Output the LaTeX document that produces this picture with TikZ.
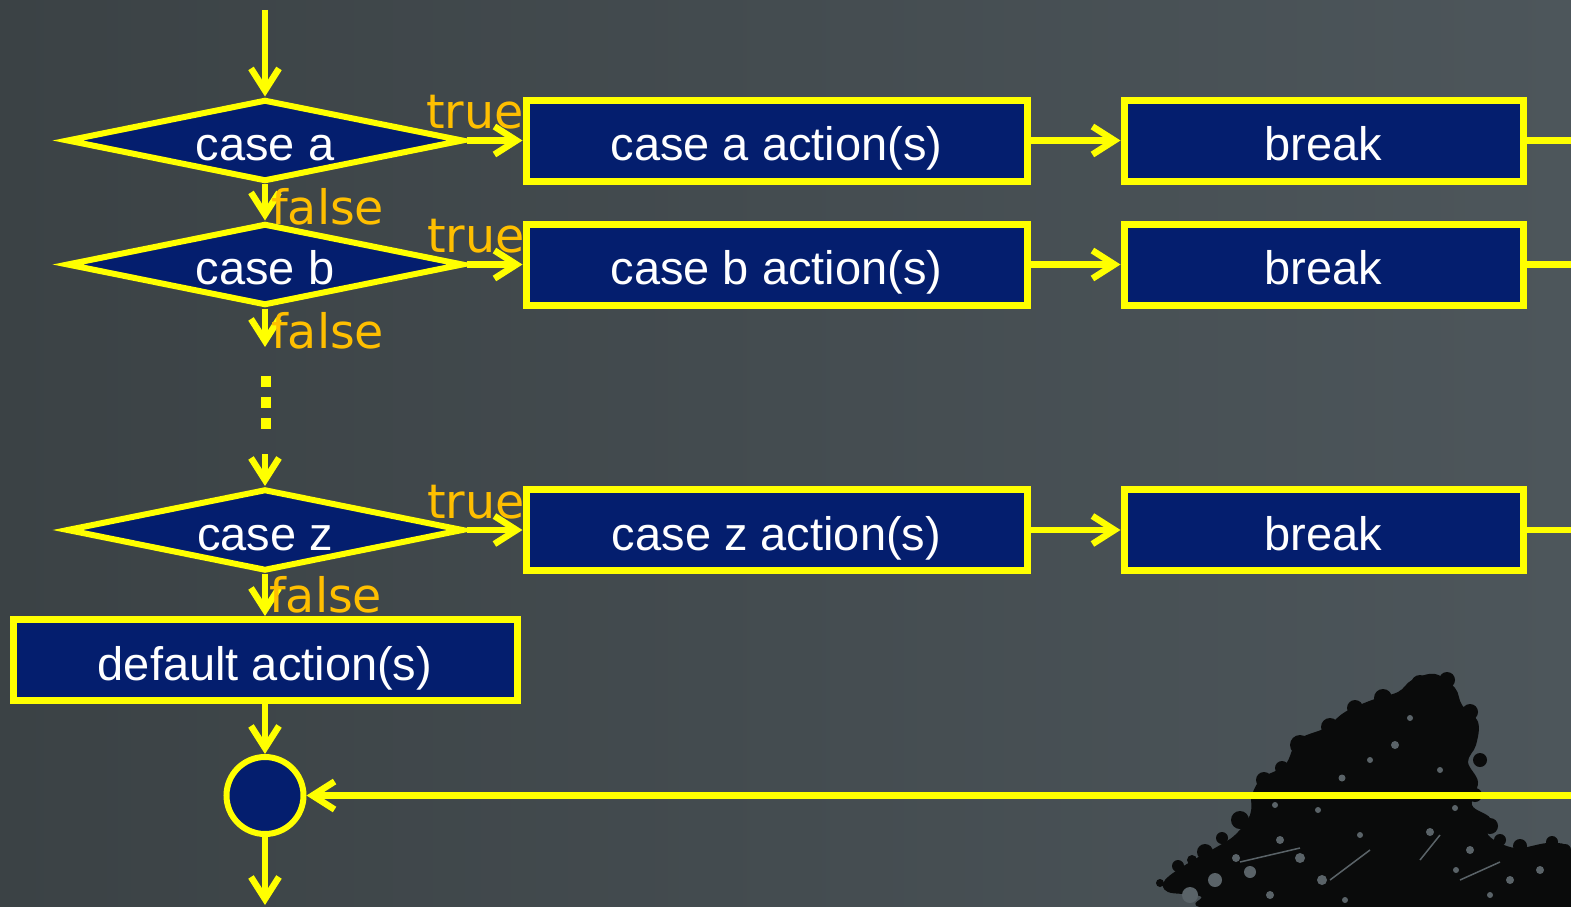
\documentclass[tikz,border=0pt]{standalone}
\usepackage{fontspec}
\setmainfont{Liberation Sans}
\newfontfamily\dejavu{DejaVu Sans}
\usetikzlibrary{shapes.geometric,arrows.meta}
\definecolor{bgL}{HTML}{3B4245}
\definecolor{bgR}{HTML}{4D565B}
\definecolor{navy}{HTML}{041E6E}
\definecolor{ylw}{HTML}{FFFF00}
\definecolor{lbl}{HTML}{FFBF00}
\definecolor{treeblk}{HTML}{0A0B0B}
\definecolor{skyhole}{HTML}{5A6368}
\begin{document}
\begin{tikzpicture}[x=1pt,y=-1pt,
  box/.style={draw=ylw, fill=navy, line width=7pt, text=white,
    font=\fontsize{47pt}{56pt}\selectfont, inner sep=0pt,
    text height=40pt, text depth=0pt, minimum height=81pt},
  dec/.style={diamond, draw=ylw, fill=navy, line width=6pt, text=white,
    font=\fontsize{47pt}{56pt}\selectfont, inner sep=0pt,
    text height=40pt, text depth=0pt, aspect=4.8,
    minimum width=397pt, minimum height=82pt},
  joinpt/.style={circle, draw=ylw, fill=navy, line width=6pt,
    minimum size=77pt, inner sep=0pt},
  conn/.style={draw=ylw, line width=6.5pt, -{Straight Barb[length=22pt,width=28pt]}},
  plain/.style={draw=ylw, line width=6.5pt},
  dots/.style={draw=ylw, line width=10.5pt, dash pattern=on 10.5pt off 10.5pt},
  lab/.style={text=lbl, font=\dejavu\fontsize{47.5pt}{56pt}\selectfont, inner sep=0pt, anchor=base west}
]
% background
\shade[left color=bgL, right color=bgR] (0,0) rectangle (1571,907);
\useasboundingbox (0,0) rectangle (1571,907);
\begin{scope}
\clip (0,0) rectangle (1571,907);
\foreach \r in {210,205,...,20} {\fill[white, opacity=0.0045] (1375,790) circle (\r);}
% tree silhouette
\fill[treeblk] plot[smooth cycle, tension=0.6] coordinates {
  (1165,880) (1190,862) (1215,848) (1235,835) (1250,815) (1252,795)
  (1262,778) (1285,765) (1298,740) (1325,728) (1345,712) (1372,700)
  (1398,692) (1412,680) (1435,674) (1455,688) (1462,705) (1478,722)
  (1476,745) (1468,762) (1478,782) (1472,805) (1490,818) (1488,835)
  (1515,848) (1550,843) (1571,852) (1575,910) (1230,910) (1200,896)
  (1168,892)};
\fill[treeblk]
  (1420,684) circle (9) (1447,680) circle (8) (1300,745) circle (10)
  (1264,780) circle (8) (1240,820) circle (9) (1205,852) circle (8)
  (1178,866) circle (6) (1160,883) circle (4) (1480,760) circle (7)
  (1490,826) circle (8) (1520,846) circle (7) (1552,842) circle (6)
  (1565,850) circle (6) (1383,698) circle (9) (1355,708) circle (8)
  (1330,727) circle (9) (1282,768) circle (7) (1470,712) circle (8)
  (1475,795) circle (7) (1257,800) circle (6) (1222,838) circle (6)
  (1192,860) circle (5) (1500,840) circle (6);
% sky gaps inside the crown
\fill[skyhole]
  (1395,745) circle (4) (1342,778) circle (3.5) (1430,832) circle (4)
  (1300,858) circle (5) (1470,850) circle (4) (1360,835) circle (3)
  (1250,872) circle (6) (1510,880) circle (4) (1322,880) circle (5)
  (1280,840) circle (4) (1456,870) circle (3) (1236,858) circle (4)
  (1410,718) circle (3) (1370,760) circle (3) (1440,770) circle (3)
  (1215,880) circle (7) (1190,895) circle (8) (1270,895) circle (4)
  (1345,900) circle (3) (1540,870) circle (4) (1490,895) circle (3)
  (1455,808) circle (3) (1318,810) circle (3) (1275,805) circle (3);
\draw[skyhole, line width=1.5pt]
  (1240,862) -- (1300,848) (1330,880) -- (1370,850)
  (1460,880) -- (1500,862) (1420,860) -- (1440,835);
\end{scope}

% decisions
\node[dec] (da) at (265,140.5) {case a};
\node[dec] (db) at (265,264.5) {case b};
\node[dec] (dz) at (265,530) {case z};
% action boxes
\node[box, minimum width=501pt] (aa) at (776.5,140.5) {case a action(s)};
\node[box, minimum width=501pt] (ab) at (776.5,264.5) {case b action(s)};
\node[box, minimum width=501pt] (az) at (776.5,530) {case z action(s)};
\node[box, minimum width=399pt] (ka) at (1323.5,140.5) {break};
\node[box, minimum width=399pt] (kb) at (1323.5,264.5) {break};
\node[box, minimum width=399pt] (kz) at (1323.5,530) {break};
\node[box, minimum width=504pt] (df) at (265,660) {default action(s)};
\node[joinpt] (jn) at (265,795.5) {};

% free ends
\coordinate (top) at (265,10);
\coordinate (fb) at (265,347);
\coordinate (d1) at (266,376);
\coordinate (d2) at (266,428.5);
\coordinate (d3) at (265,454);
\coordinate (ea) at (1571,140.5);
\coordinate (eb) at (1571,264.5);
\coordinate (ez) at (1571,530);
\coordinate (rin) at (1571,795.5);
\coordinate (out) at (265,905);

% connectors
\draw[conn] (top) -- (da);
\draw[conn] (da) -- (db);
\draw[conn] (db) -- (fb);
\draw[dots] (d1) -- (d2);
\draw[conn] (d3) -- (dz);
\draw[conn] (dz) -- (df);
\draw[conn] (df) -- (jn);
\draw[conn] (jn) -- (out);
\draw[conn] (rin) -- (jn);
\draw[conn] (da) -- (aa);
\draw[conn] (db) -- (ab);
\draw[conn] (dz) -- (az);
\draw[conn] (aa) -- (ka);
\draw[conn] (ab) -- (kb);
\draw[conn] (az) -- (kz);
\draw[plain] (ka) -- (ea);
\draw[plain] (kb) -- (eb);
\draw[plain] (kz) -- (ez);

% labels
\node[lab] (ta) at (426,128) {true};
\node[lab] (tb) at (427,252) {true};
\node[lab] (tz) at (427,518) {true};
\node[lab] (fa) at (271,224) {false};
\node[lab] (fbl) at (271,348) {false};
\node[lab] (fz) at (269,612) {false};
\end{tikzpicture}
\end{document}
